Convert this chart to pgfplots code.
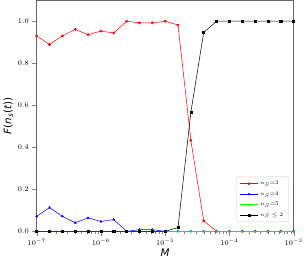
\documentclass[border=0pt]{standalone}
\usepackage{pgfplots}
\pgfplotsset{compat=1.18}
\usepackage{fontspec}
\setsansfont{DejaVu Sans}
\begin{document}
\begin{tikzpicture}
\begin{axis}[
  scale only axis, width=249pt, height=224pt,
  xmode=log, xmin=1e-7, xmax=1e-3,
  ymin=0, ymax=1.1,
  ytick={0,0.2,0.4,0.6,0.8,1.0},
  yticklabel style={/pgf/number format/fixed,/pgf/number format/fixed zerofill,/pgf/number format/precision=1},
  tick label style={font=\fontsize{7}{8}\selectfont},
  tick align=outside, tick pos=left,
  axis line style={gray!80!black},
  xlabel={\textsf{\textit{M}}}, ylabel={\textsf{\textit{F}(\textit{n}\textsubscript{\textit{s}}(\textit{t}))}},
  label style={font=\fontsize{10}{12}\selectfont},
  xlabel style={yshift=4pt}, ylabel style={yshift=-2pt},
  legend style={font=\fontsize{5.5}{6.5}\selectfont, draw=gray!40, rounded corners=1pt, at={(0.98,0.04)}, anchor=south east, row sep=1pt},
  legend cell align=left,
  every axis plot/.append style={line width=0.5pt, mark size=1.1pt},
]
\addplot[red, mark=*] coordinates {
(1e-7,0.93)(1.58489e-7,0.889)(2.51189e-7,0.93)(3.98107e-7,0.961)(6.30957e-7,0.936)
(1e-6,0.953)(1.58489e-6,0.944)(2.51189e-6,1.0)(3.98107e-6,0.992)(6.30957e-6,0.992)
(1e-5,1.0)(1.58489e-5,0.982)(2.51189e-5,0.433)(3.98107e-5,0.05)(6.30957e-5,0.0)
(1e-4,0)(1.58489e-4,0)(2.51189e-4,0)(3.98107e-4,0)(6.30957e-4,0)(1e-3,0)};
\addlegendentry{$n_S$=3}
\addplot[blue, mark=triangle*] coordinates {
(1e-7,0.072)(1.58489e-7,0.113)(2.51189e-7,0.072)(3.98107e-7,0.041)(6.30957e-7,0.064)
(1e-6,0.047)(1.58489e-6,0.056)(2.51189e-6,0.0)(3.98107e-6,0.008)(6.30957e-6,0.008)
(1e-5,0)(1.58489e-5,0)(2.51189e-5,0)(3.98107e-5,0)(6.30957e-5,0)
(1e-4,0)(1.58489e-4,0)(2.51189e-4,0)(3.98107e-4,0)(6.30957e-4,0)(1e-3,0)};
\addlegendentry{$n_S$=4}
\addplot[green, mark=triangle*, mark options={rotate=180}] coordinates {
(1e-7,0)(1.58489e-7,0)(2.51189e-7,0)(3.98107e-7,0)(6.30957e-7,0)
(1e-6,0)(1.58489e-6,0)(2.51189e-6,0)(3.98107e-6,0)(6.30957e-6,0)
(1e-5,0)(1.58489e-5,0)(2.51189e-5,0)(3.98107e-5,0)(6.30957e-5,0)
(1e-4,0)(1.58489e-4,0)(2.51189e-4,0)(3.98107e-4,0)(6.30957e-4,0)(1e-3,0)};
\addlegendentry{$n_S$=5}
\addplot[black, mark=square*, mark size=1pt] coordinates {
(1e-7,0)(1.58489e-7,0)(2.51189e-7,0)(3.98107e-7,0)(6.30957e-7,0)
(1e-6,0)(1.58489e-6,0)(2.51189e-6,0)(3.98107e-6,0)(6.30957e-6,0)
(1e-5,0)(1.58489e-5,0.018)(2.51189e-5,0.567)(3.98107e-5,0.946)(6.30957e-5,1.0)
(1e-4,1)(1.58489e-4,1)(2.51189e-4,1)(3.98107e-4,1)(6.30957e-4,1)(1e-3,1)};
\addlegendentry{$n_S\leq 2$}
\end{axis}
\end{tikzpicture}
\end{document}
